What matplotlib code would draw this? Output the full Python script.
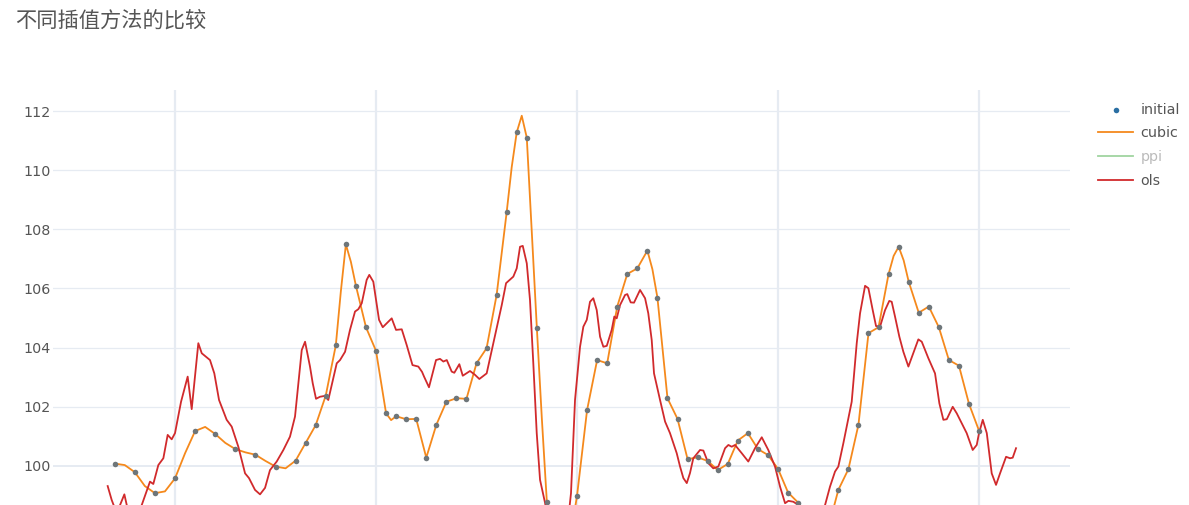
import numpy as np
import matplotlib
matplotlib.use("Agg")
import matplotlib.pyplot as plt

# ========= data =========
title = "不同插值方法的比较"

# initial observations (x in sample index units)
init_x = [14, 16, 18, 20, 22, 24, 26, 28, 30, 32,
          33, 34, 35, 36, 37, 38, 39, 40, 41, 42, 43, 44, 45, 46, 47, 48, 49, 50,
          51, 52, 53, 54, 55, 56, 57, 60, 61, 62, 63, 64, 65, 66, 67, 68, 69, 70,
          71, 72, 73, 74, 75, 76, 77, 78, 79, 80, 81, 82, 86, 87, 88, 89, 90,
          91, 92, 93, 94, 95, 96, 97, 98, 99, 100]
init_y = [100.08, 99.79, 99.08, 99.58, 101.18, 101.08, 100.57, 100.38, 99.98, 100.18,
          100.78, 101.38, 102.38, 104.08, 107.49, 106.09, 104.69, 103.89, 101.78, 101.68,
          101.58, 101.59, 100.28, 101.39, 102.17, 102.29, 102.27, 103.47,
          103.98, 105.78, 108.58, 111.28, 111.10, 104.68, 98.77, 98.99, 101.89, 103.58,
          103.47, 105.39, 106.49, 106.68, 107.28, 105.69, 102.29, 101.59,
          100.23, 100.29, 100.17, 99.86, 100.07, 100.86, 101.11, 100.57, 100.37, 99.90,
          99.10, 98.76, 99.19, 99.89, 101.39, 104.49, 104.69,
          106.49, 107.41, 106.23, 105.18, 105.39, 104.69, 103.58, 103.39, 102.10, 101.19]

# cubic interpolation curve
cubic_x = [14, 15, 16, 17, 18, 19, 20, 21, 22, 23, 24, 25, 26, 27, 28, 29, 30, 31, 32,
           33, 34, 35, 36, 36.5, 37, 37.5, 38, 39, 40, 41, 41.5, 42, 43, 44, 45, 46,
           47, 48, 49, 50, 51, 52, 53, 53.5, 54, 54.5, 55, 55.5, 56, 56.5, 57, 58, 59,
           60, 61, 62, 63, 64, 65, 66, 67, 67.5, 68, 69, 70, 71, 72, 73, 74, 75, 76,
           77, 78, 79, 80, 81, 82, 83, 84, 85, 86, 87, 88, 89, 90, 91, 91.5, 92, 92.5,
           93, 94, 95, 96, 97, 98, 99, 100]
cubic_y = [100.08, 100.03, 99.79, 99.32, 99.08, 99.14, 99.58, 100.43, 101.18, 101.32,
           101.08, 100.78, 100.57, 100.46, 100.38, 100.17, 99.98, 99.92, 100.18,
           100.78, 101.38, 102.38, 104.08, 105.9, 107.49, 106.9, 106.09, 104.69, 103.89,
           101.78, 101.55, 101.68, 101.58, 101.59, 100.28, 101.39,
           102.17, 102.29, 102.27, 103.47, 103.98, 105.78, 108.58, 110.1, 111.28, 111.84,
           111.10, 107.9, 104.68, 101.6, 98.77, 96.6, 96.9,
           98.99, 101.89, 103.58, 103.47, 105.39, 106.49, 106.68, 107.28, 106.65, 105.69,
           102.29, 101.59, 100.23, 100.29, 100.17, 99.86, 100.07, 100.86,
           101.11, 100.57, 100.37, 99.90, 99.10, 98.76, 98.0, 97.6, 97.9, 99.19, 99.89,
           101.39, 104.49, 104.69, 106.49, 107.1, 107.41, 106.95,
           106.23, 105.18, 105.39, 104.69, 103.58, 103.39, 102.10, 101.19]

# ols curve
ols_x = [13.30, 13.70, 14.20, 14.96, 15.25, 16.00, 16.69, 17.51, 17.84, 18.34, 18.84,
         19.27, 19.67, 20.00, 20.60, 21.26, 21.66, 22.32, 22.66, 23.48, 23.91, 24.38,
         25.14, 25.64, 26.30, 26.97, 27.36, 27.96, 28.46, 28.96, 29.45, 30.12, 30.78,
         31.44, 31.94, 32.61, 32.94, 33.43, 33.70, 34.03, 34.43, 34.93, 35.25, 36.09,
         36.42, 36.92, 37.41, 37.91, 38.24, 38.58, 39.07, 39.33, 39.73, 40.30, 40.67,
         41.56, 41.99, 42.56, 43.05, 43.63, 44.21, 44.58, 44.78, 45.27, 45.97, 46.37,
         46.70, 47.04, 47.53, 47.79, 48.29, 48.63, 49.35, 49.85, 50.28, 51.01, 51.67,
         52.51, 52.94, 53.66, 54.00, 54.33, 54.60, 55.00, 55.32, 55.65, 55.99, 56.32,
         56.82, 57.50, 58.30, 59.00, 59.40, 59.80, 60.30, 60.63, 60.97, 61.29, 61.62,
         61.96, 62.29, 62.62, 62.96, 63.45, 63.71, 63.95, 64.28, 64.78, 65.00, 65.34,
         65.67, 66.27, 66.77, 67.09, 67.43, 67.66, 68.26, 68.76, 69.25, 69.92, 70.25,
         70.58, 70.92, 71.24, 71.57, 72.24, 72.57, 73.07, 73.56, 74.06, 74.73, 75.06,
         75.39, 75.72, 76.39, 77.04, 77.71, 78.38, 79.03, 79.70, 80.20, 80.70, 81.03,
         81.52, 82.02, 82.80, 83.80, 84.68, 85.17, 85.67, 86.00, 86.50, 87.33, 87.83,
         88.16, 88.66, 88.99, 89.42, 89.75, 90.15, 90.65, 91.07, 91.31, 91.64, 92.07,
         92.47, 92.97, 93.46, 93.96, 94.30, 94.96, 95.62, 96.05, 96.45, 96.79, 97.38,
         97.78, 98.28, 98.77, 99.37, 99.77, 100.00, 100.37, 100.77, 101.26, 101.69,
         102.09, 102.69, 103.08, 103.35, 103.68]
ols_y = [99.32, 98.85, 98.40, 99.04, 98.60, 98.30, 98.68, 99.47, 99.39, 100.03, 100.26,
         101.05, 100.90, 101.11, 102.17, 103.02, 101.92, 104.15, 103.81, 103.58, 103.13,
         102.23, 101.56, 101.33, 100.65, 99.75, 99.59, 99.19, 99.04, 99.26, 99.86, 100.15,
         100.54, 100.99, 101.67, 103.92, 104.20, 103.36, 102.80, 102.27, 102.34, 102.37,
         102.23, 103.47, 103.58, 103.86, 104.60, 105.22, 105.30, 105.50, 106.29, 106.46,
         106.23, 104.94, 104.69, 104.99, 104.60, 104.62, 104.09, 103.41, 103.36, 103.18,
         103.02, 102.66, 103.58, 103.62, 103.53, 103.58, 103.19, 103.15, 103.44, 103.05,
         103.21, 103.08, 102.94, 103.13, 104.15, 105.44, 106.18, 106.40, 106.68, 107.41,
         107.44, 106.85, 105.61, 103.47, 101.11, 99.53, 98.75, 97.40, 96.80, 97.80, 99.08,
         102.23, 104.03, 104.71, 104.94, 105.55, 105.67, 105.27, 104.37, 104.03, 104.06,
         104.60, 105.05, 104.99, 105.44, 105.78, 105.81, 105.53, 105.52, 105.95, 105.67,
         105.16, 104.26, 103.13, 102.23, 101.50, 101.11, 100.43, 99.98, 99.59, 99.42,
         99.76, 100.26, 100.54, 100.52, 100.09, 99.92, 99.98, 100.60, 100.71, 100.65,
         100.71, 100.43, 100.15, 100.60, 100.97, 100.54, 99.98, 99.30, 98.74, 98.82,
         98.79, 98.68, 98.20, 97.90, 98.68, 99.30, 99.81, 99.98, 100.77, 102.17, 104.15,
         105.16, 106.09, 106.01, 105.27, 104.73, 104.71, 105.27, 105.58, 105.55, 105.05,
         104.37, 103.86, 103.36, 103.81, 104.28, 104.20, 103.64, 103.13, 102.12, 101.56,
         101.58, 102.00, 101.78, 101.44, 101.11, 100.54, 100.71, 101.11, 101.56, 101.11,
         99.75, 99.36, 99.75, 100.31, 100.26, 100.28, 100.60]

y_ticks = [100, 102, 104, 106, 108, 110, 112]
x_grid = [20, 40, 60, 80, 100]

# ========= figure =========
W, H = 1189, 505
fig = plt.figure(figsize=(W / 100, H / 100), dpi=100)
fig.patch.set_facecolor("white")

# plot area: left 53px, right 1070px, top 90px, bottom runs past the crop
ax = fig.add_axes([53 / W, 0, (1070 - 53) / W, 1 - 90 / H])
ax.set_xlim(7.86, 109.05)
ax.set_ylim(98.68, 112.71)

grid_c = "#E6EBF2"
for gx in x_grid:
    ax.axvline(gx, color=grid_c, lw=1.6, zorder=0)
for gy in y_ticks:
    ax.axhline(gy, color=grid_c, lw=1.4 if gy == 100 else 0.9, zorder=0)

for s in ax.spines.values():
    s.set_visible(False)

ax.plot(cubic_x, cubic_y, color="#f5891c", lw=1.3, label="cubic", zorder=2)
ax.plot([], [], color="#2ca02c", lw=1.3, alpha=0.45, label="ppi")
ax.plot(ols_x, ols_y, color="#d12a2c", lw=1.3, label="ols", zorder=3)
ax.scatter(init_x, init_y, s=16, color="#6e767a", lw=0, label="initial", zorder=4)

ax.set_xticks([])
ax.set_yticks(y_ticks)
ax.set_yticklabels([str(t) for t in y_ticks], family="DejaVu Sans",
                   fontsize=10.3, color="#555555")
ax.tick_params(axis="y", length=0, pad=1.5)

# legend in plotly order
h, l = ax.get_legend_handles_labels()
order = [l.index(n) for n in ["initial", "cubic", "ppi", "ols"]]
leg = fig.legend([h[i] for i in order], [l[i] for i in order],
                 loc="upper left", bbox_to_anchor=(1092 / W, 1 - 97 / H),
                 frameon=False, handlelength=2.5, handletextpad=0.5,
                 labelspacing=0.68, borderaxespad=0,
                 prop={"family": "DejaVu Sans", "size": 10.3})
for t in leg.get_texts():
    t.set_color("#bbbbbb" if t.get_text() == "ppi" else "#555555")
leg.legend_handles[0].set_color("#2a6fa3")

fig.text(15 / W, 1 - 21 / H, title, family=["Noto Sans CJK SC", "DejaVu Sans"],
         fontsize=15.3, color="#555555", va="center", ha="left")

fig.savefig("out.png", dpi=100)
